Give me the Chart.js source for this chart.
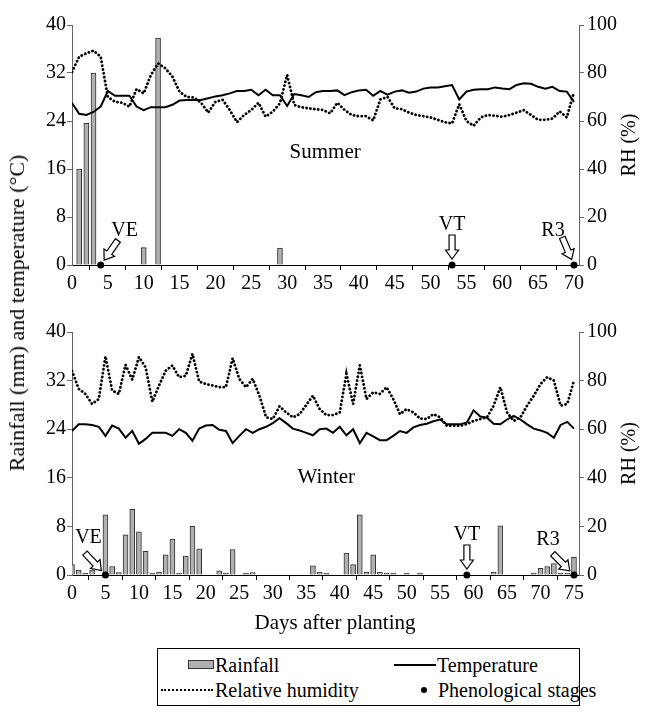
<!DOCTYPE html>
<html lang="en">
<head>
    <meta charset="UTF-8">
    <title>Rainfall, temperature and RH - summer and winter</title>
    <script src="https://cdn.jsdelivr.net/npm/chart.js"></script>
    <style>
        body { margin: 0; background: #fff; font-family: "Liberation Serif", "DejaVu Serif", Tinos, "Times New Roman", Times, serif; }
        #wrap { position: relative; width: 649px; height: 712px; }
        canvas { position: absolute; left: 0; }
        #ytitle {
            position: absolute; left: 17px; top: 313px;
            transform: translate(-50%, -50%) rotate(-90deg);
            white-space: nowrap; font-size: 22px;
        }
        #legend {
            position: absolute; left: 157px; top: 648px; width: 423px; height: 58px;
            border: 1px solid #000; box-sizing: border-box;
        }
        #legend .lab { position: absolute; font-size: 20px; line-height: 20px; white-space: nowrap; }
        #legend .ico { position: absolute; }
    </style>
</head>
<body>
<div id="wrap">
    <canvas id="summer" width="649" height="300" style="top:0"></canvas>
    <canvas id="winter" width="649" height="340" style="top:300px"></canvas>
    <div id="ytitle">Rainfall (mm) and temperature (°C)</div>
    <div id="legend">
        <span class="ico" style="left:30px;top:11px;width:26px;height:9px;background:#b0b0b0;border:1px solid #333;box-sizing:border-box"></span>
        <span class="lab" style="left:57px;top:6px">Rainfall</span>
        <span class="ico" style="left:3px;top:40px;width:52px;border-top:2.5px dotted #000"></span>
        <span class="lab" style="left:57px;top:31px">Relative humidity</span>
        <span class="ico" style="left:236px;top:15px;width:42px;border-top:2px solid #000"></span>
        <span class="lab" style="left:279px;top:6px">Temperature</span>
        <span class="ico" style="left:263px;top:38px;width:6px;height:6px;border-radius:50%;background:#000"></span>
        <span class="lab" style="left:280px;top:31px">Phenological stages</span>
    </div>
</div>

<script>
    // summer, days 0..70
    const summerTemp = [27, 25.2, 25, 25.5, 26.4, 29, 28.2, 28.2, 28.2, 26.4, 25.8, 26.3, 26.3, 26.3, 26.7,
        27.4, 27.5, 27.5, 27.5, 27.8, 28.1, 28.3, 28.6, 29, 29, 29.2, 28.3, 29.2, 28.3, 28.3, 26.5,
        28.5, 28.3, 28, 28.8, 29, 29, 29.1, 28.3, 28.8, 29.1, 29.2, 28.2, 29, 28.4, 28.9, 29.1, 28.7,
        28.9, 29.4, 29.6, 29.6, 29.8, 30, 27.6, 28.9, 29.2, 29.3, 29.3, 29.6, 29.4, 29.3, 30, 30.3,
        30.2, 29.7, 29.4, 29.7, 29, 28.9, 27.2];
    const summerRH = [80.5, 86.8, 88.2, 89.3, 86.8, 70, 68, 67.6, 66, 73.3, 71.5, 79.2, 84, 82, 78.5,
        72.2, 70, 69.8, 67.6, 63.5, 68, 68.8, 64.6, 59.5, 62.5, 64.6, 67.6, 61.8, 63.9, 67.4, 79.2,
        66.7, 65.7, 65.3, 64.9, 64.6, 63.2, 67.6, 64.6, 62.5, 62, 62, 60.2, 69, 70, 65.3, 64.9, 63.5,
        62.5, 62, 61.5, 60.5, 59.5, 59, 67, 60, 58, 61.5, 62.5, 62.2, 61.8, 62.5, 63.5, 64.5, 62.5,
        60.5, 60.5, 61, 64, 61.5, 72];
    const summerRainDays = [1, 2, 3, 10, 12, 29];
    const summerRain = [16, 23.6, 32, 2.9, 37.8, 2.8];
    const summerStageDays = [4, 53, 70];

    // winter, days 0..75
    const winterTemp = [23.7, 24.8, 24.8, 24.7, 24.4, 22.9, 24.6, 24.1, 22.6, 23.7, 21.6, 22.4, 23.4,
        23.4, 23.4, 22.9, 24, 23.4, 22.1, 24.1, 24.6, 24.7, 23.9, 23.7, 21.7, 22.9, 24, 23.4, 24, 24.4,
        25, 25.8, 25, 24.1, 23.8, 23.4, 23, 24, 24.1, 23.4, 24.4, 23, 24, 21.7, 23.4, 22.8, 22.2, 22.2,
        22.9, 23.7, 23.4, 24.3, 24.7, 24.9, 25.3, 25.6, 24.8, 24.8, 24.8, 25.1, 27.1, 26.1, 25.9, 24.9,
        24.8, 25.6, 26.2, 25.6, 24.8, 24.1, 23.8, 23.4, 22.6, 24.7, 25.2, 24.1];
    const winterRH = [84, 76.6, 74.5, 70.4, 72.4, 90, 75.9, 74.5, 86.5, 80.4, 89.7, 85.5, 71.3, 78, 84.1,
        86.2, 81.4, 82, 91, 79.6, 78.6, 78, 77.3, 77.3, 89.2, 80.7, 77.3, 80.7, 73.8, 64.9, 64.2, 69.4,
        66.9, 64.9, 66.2, 70, 73.8, 68.3, 65.8, 65.8, 66.9, 82.8, 70.4, 86.3, 72.4, 75.2, 74.5, 77.3,
        72.4, 66.2, 68.3, 66.9, 64.4, 64.2, 66.2, 64.9, 61.4, 61.4, 61.4, 62.1, 63.4, 64.2, 64.9, 69.7,
        77.3, 66.9, 63.4, 64.9, 69.7, 73.8, 78.6, 81.4, 80, 69.7, 70.4, 80];
    const winterRainDays = [0, 1, 2, 3, 5, 6, 7, 8, 9, 10, 11, 12, 13, 14, 15, 16, 17, 18, 19, 22, 23, 24,
        26, 27, 36, 37, 38, 41, 42, 43, 44, 45, 46, 47, 48, 50, 52, 63, 64, 69, 70, 71, 72, 73, 74, 75];
    const winterRain = [1.7, 0.8, 0.3, 0.8, 9.9, 1.4, 0.4, 6.6, 10.8, 7.1, 3.9, 0.3, 0.5, 3.3, 5.9, 0.3,
        3.1, 8, 4.3, 0.7, 0.3, 4.2, 0.3, 0.4, 1.5, 0.5, 0.3, 3.6, 1.7, 9.9, 0.5, 3.3, 0.5, 0.3, 0.3, 0.3,
        0.3, 0.5, 8.1, 0.3, 1.1, 1.4, 1.9, 0.3, 0.3, 2.9];
    const winterStageDays = [5, 59, 75];

    const stageNames = ['VE', 'VT', 'R3'];
    const leftTicks = [0, 40, 8];     // min, max, step
    const rightTicks = [0, 100, 20];

    const FONT = '"Liberation Serif", "DejaVu Serif", Tinos, "Times New Roman", Times, serif';
    Chart.defaults.font.family = FONT;
    Chart.defaults.font.size = 20;
    Chart.defaults.color = '#000';

    // hollow block arrow, tip at (tx, ty), pointing along ang (deg)
    function blockArrow(ctx, tx, ty, ang) {
        const L = 24, h = 9, hw = 6.5, sw = 3;
        ctx.save();
        ctx.translate(tx, ty);
        ctx.rotate(ang * Math.PI / 180);
        ctx.beginPath();
        ctx.moveTo(0, 0);
        ctx.lineTo(-h, -hw); ctx.lineTo(-h, -sw); ctx.lineTo(-L, -sw);
        ctx.lineTo(-L, sw); ctx.lineTo(-h, sw); ctx.lineTo(-h, hw);
        ctx.closePath();
        ctx.fillStyle = '#fff';
        ctx.fill();
        ctx.lineWidth = 1.2;
        ctx.strokeStyle = '#000';
        ctx.stroke();
        ctx.restore();
    }

    function decor(cfg) {
        return {
            id: 'decor',
            afterDatasetsDraw(chart) {
                const {ctx, chartArea: a, scales: {x, y}} = chart;
                ctx.save();
                ctx.fillStyle = '#000';
                ctx.textAlign = 'center';
                ctx.textBaseline = 'middle';
                ctx.font = '21px ' + FONT;
                ctx.fillText(cfg.season, x.getPixelForValue(cfg.seasonAt[0]), y.getPixelForValue(cfg.seasonAt[1]));

                ctx.font = '20px ' + FONT;
                cfg.days.forEach((d, i) => {
                    const s = cfg.arrows[i];
                    const px = x.getPixelForValue(d), py = y.getPixelForValue(0);
                    const r = s.ang * Math.PI / 180;
                    blockArrow(ctx, px - 6 * Math.cos(r), py - 6 * Math.sin(r), s.ang);
                    ctx.fillText(stageNames[i], px + s.dx, py + s.dy);
                });

                ctx.save();
                ctx.translate(630, (a.top + a.bottom) / 2);
                ctx.rotate(-Math.PI / 2);
                ctx.fillText('RH (%)', 0, 0);
                ctx.restore();

                if (cfg.xTitle) {
                    ctx.font = '21px ' + FONT;
                    ctx.fillText(cfg.xTitle, 335, chart.height - 17);
                }
                ctx.restore();
            }
        };
    }

    function makeChart(id, temp, rh, rainDays, rain, stageDays, xMax, pad, xHeight, extra) {
        return new Chart(document.getElementById(id), {
            type: 'line',
            data: {
                datasets: [
                    {
                        type: 'line', label: 'Phenological stages', order: 1, yAxisID: 'y',
                        data: stageDays.map(d => ({x: d, y: 0})),
                        showLine: false, pointRadius: 3.5, pointBackgroundColor: '#000',
                        pointBorderWidth: 0, clip: false
                    },
                    {
                        label: 'Temperature', order: 2, yAxisID: 'y',
                        data: temp.map((v, i) => ({x: i, y: v})),
                        borderColor: '#000', borderWidth: 2, pointRadius: 0, tension: 0
                    },
                    {
                        label: 'Relative humidity', order: 3, yAxisID: 'y1',
                        data: rh.map((v, i) => ({x: i, y: v})),
                        borderColor: '#000', borderWidth: 2.8, borderDash: [0.1, 3.8],
                        borderCapStyle: 'round', pointRadius: 0, tension: 0
                    },
                    {
                        type: 'bar', label: 'Rainfall', order: 4, yAxisID: 'y',
                        data: rainDays.map((d, i) => ({x: d, y: rain[i]})),
                        backgroundColor: '#b0b0b0', borderColor: '#333', borderWidth: 1,
                        barThickness: 5
                    }
                ]
            },
            options: {
                responsive: false,
                animation: false,
                layout: { padding: { top: pad, left: 0, right: 0, bottom: 0 } },
                plugins: { legend: { display: false }, tooltip: { enabled: false } },
                scales: {
                    x: {
                        type: 'linear', min: 0, max: xMax, offset: false,
                        afterFit: s => { s.height = xHeight; },
                        ticks: { stepSize: 5, padding: 2, maxRotation: 0, includeBounds: false, autoSkip: false },
                        border: { color: '#000', width: 1 },
                        grid: { drawOnChartArea: false, tickLength: 5, color: '#000' }
                    },
                    y: {
                        position: 'left', min: leftTicks[0], max: leftTicks[1],
                        afterFit: s => { s.width = 72; },
                        ticks: { stepSize: leftTicks[2], padding: 1 },
                        border: { color: '#666', width: 1 },
                        grid: { drawOnChartArea: false, tickLength: 5, color: '#666' }
                    },
                    y1: {
                        position: 'right', min: rightTicks[0], max: rightTicks[1],
                        afterFit: s => { s.width = 70; },
                        ticks: { stepSize: rightTicks[2], padding: 3 },
                        border: { color: '#666', width: 1 },
                        grid: { drawOnChartArea: false, tickLength: 5, color: '#666' }
                    }
                }
            },
            plugins: [decor(extra)]
        });
    }

    makeChart('summer', summerTemp, summerRH, summerRainDays, summerRain, summerStageDays,
        70.7, 25, 35, {
            season: 'Summer', seasonAt: [35.3, 18.8], days: summerStageDays,
            arrows: [{ang: 125, dx: 24, dy: -34}, {ang: 90, dx: 0, dy: -40}, {ang: 67, dx: -21, dy: -34}]
        });

    makeChart('winter', winterTemp, winterRH, winterRainDays, winterRain, winterStageDays,
        75.75, 32, 65, {
            season: 'Winter', seasonAt: [38, 16], days: winterStageDays, xTitle: 'Days after planting',
            arrows: [{ang: 47, dx: -17, dy: -37}, {ang: 90, dx: 0, dy: -40}, {ang: 45, dx: -26, dy: -35}]
        });
</script>
</body>
</html>
